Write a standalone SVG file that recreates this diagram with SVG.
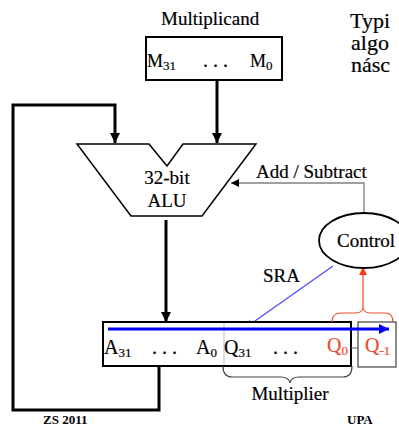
<svg xmlns="http://www.w3.org/2000/svg" width="399" height="427" viewBox="0 0 399 427">
  <style>
    text { font-family: 'Liberation Serif', 'Times New Roman', serif; fill: #000; stroke: #000; stroke-width: 0.2px; }
    .lbl { font-size: 19px; }
    .reg { font-size: 20px; }
    .sub { font-size: 13px; }
    .red { fill: #F04A28; stroke: #F04A28; }
    .foot { font-size: 13px; font-weight: bold; stroke: none; }
    .title { font-size: 22px; }
    .bus { fill: none; stroke: #000; stroke-width: 3; }
    .box { fill: #fff; stroke: #000; stroke-width: 2; }
  </style>
  <defs>
    <marker id="bigArrow" viewBox="0 0 10 10" refX="10" refY="5" markerWidth="3.4" markerHeight="3.4" markerUnits="strokeWidth" orient="auto">
      <path d="M0,0 L10,5 L0,10 Z" fill="#000"/>
    </marker>
    <marker id="smallArrow" viewBox="0 0 10 10" refX="10" refY="5" markerWidth="8" markerHeight="8" markerUnits="userSpaceOnUse" orient="auto">
      <path d="M0,0 L10,5 L0,10 Z" fill="#000"/>
    </marker>
    <marker id="blueArrow" viewBox="0 0 10 10" refX="10" refY="5" markerWidth="12" markerHeight="10" markerUnits="userSpaceOnUse" orient="auto">
      <path d="M0,0 L10,5 L0,10 Z" fill="#0000FF"/>
    </marker>
    <marker id="sraArrow" viewBox="0 0 10 10" refX="10" refY="5" markerWidth="8" markerHeight="8" markerUnits="userSpaceOnUse" orient="auto">
      <path d="M0,0 L10,5 L0,10 Z" fill="#0000FF"/>
    </marker>
    <marker id="redArrow" viewBox="0 0 10 10" refX="10" refY="5" markerWidth="8" markerHeight="8" markerUnits="userSpaceOnUse" orient="auto">
      <path d="M0,0 L10,5 L0,10 Z" fill="#FF3A10"/>
    </marker>
  </defs>

  <rect width="399" height="427" fill="#fff"/>

  <!-- heading text, running off the right edge -->
  <g id="heading">
    <text class="title" x="350" y="28">Typi</text>
    <text class="title" x="351" y="50">algo</text>
    <text class="title" x="351" y="72">násc</text>
  </g>

  <!-- connectors -->
  <g id="connectors">
    <!-- feedback loop from the register back into the ALU -->
    <polyline class="bus" points="159,366 159,410 13,410 13,105 115,105 115,143" marker-end="url(#bigArrow)"/>
    <!-- multiplicand into ALU -->
    <line class="bus" x1="217" y1="80" x2="217" y2="143" marker-end="url(#bigArrow)"/>
    <!-- ALU result into the register -->
    <line class="bus" x1="166" y1="220" x2="166" y2="322" marker-end="url(#bigArrow)"/>
    <!-- Add / Subtract select -->
    <polyline points="364,213 364,183 231,183" fill="none" stroke="#808080" stroke-width="1.3" marker-end="url(#smallArrow)"/>
    <!-- shift right arithmetic -->
    <line x1="333" y1="266" x2="245" y2="328" stroke="#4A4AFF" stroke-width="1.2" marker-end="url(#sraArrow)"/>
    <!-- Q0 / Q-1 pair read by the control -->
    <line x1="363" y1="308" x2="363" y2="267" stroke="#FF6A4A" stroke-width="1.5" marker-end="url(#redArrow)"/>
  </g>

  <!-- multiplicand register -->
  <g id="multiplicand">
    <text class="lbl" x="161" y="25">Multiplicand</text>
    <rect class="box" x="146" y="37" width="136" height="43"/>
    <text class="reg" x="147" y="67" style="font-size:18px">M<tspan class="sub" dy="3">31</tspan></text>
    <text class="reg" x="203" y="67">. . .</text>
    <text class="reg" x="250" y="67" style="font-size:18px">M<tspan class="sub" dy="3">0</tspan></text>
  </g>

  <!-- ALU -->
  <g id="alu">
    <polygon points="77,144 149,144 167,166 183,144 256,144 202,216 131,216" fill="#fff" stroke="#000" stroke-width="1.5"/>
    <text class="lbl" x="167" y="184" text-anchor="middle">32-bit</text>
    <text class="lbl" x="167" y="207" text-anchor="middle">ALU</text>
  </g>

  <!-- control unit -->
  <g id="control">
    <ellipse cx="364" cy="240.5" rx="45" ry="27.5" fill="#fff" stroke="#000" stroke-width="1.8"/>
    <text class="lbl" x="337" y="247">Control</text>
  </g>

  <g id="labels">
    <text class="lbl" x="256" y="178">Add / Subtract</text>
    <text class="lbl" x="263" y="282">SRA</text>
  </g>

  <!-- product register A:Q -->
  <g id="product">
    <rect class="box" x="103" y="322" width="248" height="44"/>
    <line x1="224" y1="323" x2="224" y2="365" stroke="#C8C8C8" stroke-width="1.2"/>
    <text class="reg" x="104" y="354">A<tspan class="sub" dy="3">31</tspan></text>
    <text class="reg" x="152" y="354">. . .</text>
    <text class="reg" x="196" y="354">A<tspan class="sub" dy="3">0</tspan></text>
    <text class="reg" x="224" y="354">Q<tspan class="sub" dy="3">31</tspan></text>
    <text class="reg" x="273" y="354">. . .</text>
    <text class="reg red" x="327" y="352">Q<tspan class="sub" dy="3">0</tspan></text>
  </g>

  <!-- extra bit Q-1 -->
  <g id="q-1">
    <line x1="351" y1="348" x2="358" y2="348" stroke="#606060" stroke-width="1"/>
    <rect x="358" y="322" width="38" height="45" fill="#fff" stroke="#404040" stroke-width="1.2"/>
    <text class="reg red" x="365" y="352">Q<tspan class="sub" dy="3">-1</tspan></text>
  </g>

  <!-- shift path through A, Q and Q-1 -->
  <line x1="108" y1="329" x2="389" y2="329" stroke="#0000FF" stroke-width="3" marker-end="url(#blueArrow)"/>

  <!-- braces -->
  <g id="braces">
    <path d="M332,322 Q332,313 341,313 L355,313 Q362,313 363,308 Q364,313 371,313 L385,313 Q393,313 393,322" fill="none" stroke="#F05030" stroke-width="1.2"/>
    <path d="M223,366 Q223,377 232,377 L281,377 Q289,377 290,383 Q291,377 299,377 L343,377 Q352,377 352,366" fill="none" stroke="#404040" stroke-width="1.2"/>
    <text class="lbl" x="290" y="400" text-anchor="middle">Multiplier</text>
  </g>

  <!-- footer -->
  <g id="footer">
    <text class="foot" x="43" y="424">ZS 2011</text>
    <text class="foot" x="347" y="424">UPA</text>
  </g>
</svg>
